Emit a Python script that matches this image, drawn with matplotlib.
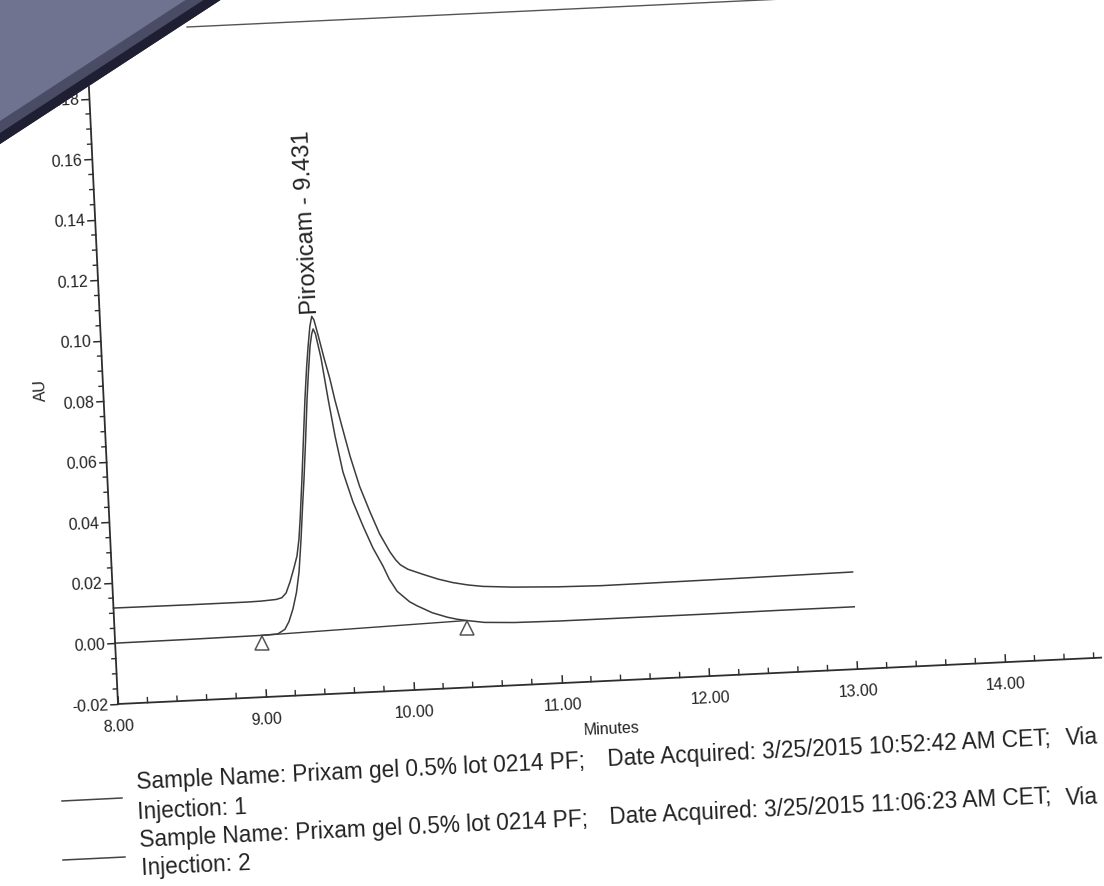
import numpy as np
import matplotlib
matplotlib.use("Agg")
import matplotlib.pyplot as plt
import matplotlib.ticker as mticker
from matplotlib.transforms import Affine2D
from matplotlib.patches import Polygon
from matplotlib.lines import Line2D
import mpl_toolkits.axisartist.floating_axes as floating_axes
from mpl_toolkits.axisartist.grid_finder import FixedLocator

plt.rcParams['font.family'] = ['Liberation Sans', 'DejaVu Sans']

# ---------------- chromatogram data ----------------
inj1_time = [8.00, 8.50, 8.90, 9.00, 9.10, 9.14, 9.17, 9.20, 9.23, 9.255, 9.274,
             9.29, 9.313, 9.335, 9.359, 9.38, 9.397, 9.415, 9.431, 9.445, 9.47,
             9.50, 9.534, 9.56, 9.60, 9.645, 9.70, 9.762, 9.82, 9.884, 9.92, 9.95,
             10.00, 10.10, 10.20, 10.30, 10.40, 10.50, 10.70, 11.00, 11.30, 12.00,
             12.50, 13.00]
inj1_au = [0.0117, 0.0116, 0.0116, 0.0117, 0.0120, 0.0125, 0.0140, 0.0176, 0.0220,
           0.0260, 0.0316, 0.0390, 0.0513, 0.0640, 0.0777, 0.0880, 0.0950, 0.1015,
           0.1048, 0.1035, 0.0980, 0.0910, 0.0838, 0.0770, 0.0680, 0.0581, 0.0480,
           0.0394, 0.0320, 0.0259, 0.0232, 0.0215, 0.0199, 0.0180, 0.0162, 0.0148,
           0.0138, 0.0131, 0.0124, 0.0118, 0.0115, 0.0117, 0.0119, 0.0121]

inj2_time = [8.00, 8.50, 9.00, 9.10, 9.15, 9.18, 9.211, 9.24, 9.264, 9.288, 9.31,
             9.327, 9.35, 9.373, 9.39, 9.41, 9.425, 9.436, 9.45, 9.48, 9.515, 9.55,
             9.592, 9.65, 9.71, 9.77, 9.832, 9.87, 9.92, 10.00, 10.047, 10.15, 10.25,
             10.313, 10.38, 10.50, 10.70, 11.00, 11.30, 12.00, 12.50, 13.00]
inj2_au = [0.0001, 0.0002, 0.0004, 0.0006, 0.0020, 0.0045, 0.0086, 0.0140, 0.0207,
           0.0316, 0.0430, 0.0513, 0.0640, 0.0776, 0.0860, 0.0950, 0.0990, 0.1006,
           0.0990, 0.0910, 0.0773, 0.0650, 0.0530, 0.0430, 0.0349, 0.0275, 0.0214,
           0.0170, 0.0128, 0.0092, 0.0078, 0.0052, 0.0035, 0.0027, 0.0021, 0.0012,
           0.0007, 0.0005, 0.0005, 0.0005, 0.0006, 0.0006]

peak_name = "Piroxicam"
peak_rt = 9.431
peak_start = 8.99      # integration start (min)
peak_end = 10.38       # integration end (min)

x_major = [8.00, 9.00, 10.00, 11.00, 12.00, 13.00, 14.00]
y_major = [-0.02, 0.00, 0.02, 0.04, 0.06, 0.08, 0.10, 0.12, 0.14, 0.16, 0.18]

sample_name = "Prixam gel 0.5% lot 0214 PF"
acquired = ["3/25/2015 10:52:42 AM CET", "3/25/2015 11:06:23 AM CET"]
injections = [1, 2]

x_range = (8.0, 14.65)
y_range = (-0.02, 0.19)

# ---------------- page geometry ----------------
W, H = 1104, 887
px_per_min = 148.0
px_per_au = 3030.0
tilt = 2.7                 # the printed page sits slightly rotated
origin_px = (118.0, 182.0)  # display position of (8.00 min, -0.02 AU)
ink = '#2e2e2e'
text_ink = '#222222'


def fp(u, v):
    """Pixel position measured from the top-left corner -> figure fraction."""
    return (u / W, 1.0 - v / H)


fig = plt.figure(figsize=(W / 100, H / 100), dpi=100)
fig.patch.set_facecolor('white')

tr = (Affine2D().translate(-x_range[0], -y_range[0])
      .scale(px_per_min, px_per_au).rotate_deg(tilt))

corners = tr.transform([(x_range[0], y_range[0]), (x_range[1], y_range[0]),
                        (x_range[0], y_range[1]), (x_range[1], y_range[1])])
bx0, by0 = corners.min(axis=0)
bx1, by1 = corners.max(axis=0)
cx, cy = (bx0 + bx1) / 2, (by0 + by1) / 2
bw, bh = (bx1 - bx0) * 1.02, (by1 - by0) * 1.02
rect = [(origin_px[0] + cx - bw / 2) / W, (origin_px[1] + cy - bh / 2) / H,
        bw / W, bh / H]

fmt = mticker.FormatStrFormatter('%.2f')
grid_helper = floating_axes.GridHelperCurveLinear(
    tr, extremes=(x_range[0], x_range[1], y_range[0], y_range[1]),
    grid_locator1=FixedLocator(x_major), grid_locator2=FixedLocator(y_major),
    tick_formatter1=fmt, tick_formatter2=fmt)
ax = fig.add_axes(rect, axes_class=floating_axes.FloatingAxes,
                  grid_helper=grid_helper)
ax.patch.set_facecolor('white')
ax.patch.set_edgecolor('none')

ax.axis["top"].set_visible(False)
ax.axis["right"].set_visible(False)
for side in ("left", "bottom"):
    a = ax.axis[side]
    a.line.set_color(ink)
    a.line.set_linewidth(1.3)
    a.major_ticks.set_color(ink)
    a.major_ticks.set_markeredgewidth(1.1)
    a.major_ticklabels.set_fontsize(11.5)
    a.major_ticklabels.set_color(text_ink)
    a.label.set_fontsize(11.5)
    a.label.set_color(text_ink)

ax.axis["left"].major_ticks.set_tick_out(True)
ax.axis["left"].major_ticks.set_ticksize(6)
ax.axis["left"].major_ticklabels.set_pad(1)
ax.axis["left"].label.set_text("AU")
ax.axis["left"].label.set_pad(6)

ax.axis["bottom"].major_ticks.set_ticksize(6)
ax.axis["bottom"].major_ticklabels.set_pad(10)
ax.axis["bottom"].label.set_text("Minutes")
ax.axis["bottom"].label.set_pad(10)

aux = ax.get_aux_axes(tr)

# minor ticks: x inward (up), y outward (left)
x_minor = [v for v in np.arange(8.2, x_range[1], 0.2)
           if min(abs(v - m) for m in x_major) > 1e-6]
y_minor = [v for v in np.arange(-0.015, y_range[1], 0.005)
           if min(abs(v - m) for m in y_major) > 1e-6]
for v in x_minor:
    aux.plot([v, v], [y_range[0], y_range[0] + 5 / px_per_au],
             color=ink, lw=1.0, clip_on=False)
for v in y_minor:
    aux.plot([x_range[0], x_range[0] - 4 / px_per_min], [v, v],
             color=ink, lw=1.0, clip_on=False)

# traces
trace_color = '#3c3c3c'
aux.plot(inj1_time, inj1_au, color=trace_color, lw=1.1)
aux.plot(inj2_time, inj2_au, color=trace_color, lw=1.1)

# integration baseline and start/end markers
b0 = np.interp(peak_start, inj2_time, inj2_au)
b1 = np.interp(peak_end, inj2_time, inj2_au)
aux.plot([peak_start, peak_end], [b0, b1], color=trace_color, lw=1.0)
aux.plot([peak_start, peak_end], [b0 - 0.0024, b1 - 0.0024], ls='none',
         marker='^', ms=10, mfc='white', mec='#555555', mew=1.1)

# peak label
peak_top = max(inj1_au)
aux.text(peak_rt - 0.005, peak_top + 0.0010, f"{peak_name} - {peak_rt:.3f}",
         rotation=90 + tilt, rotation_mode='anchor', ha='left', va='center',
         fontsize=17, color=text_ink)

# ---------------- legend block ----------------
leg_text_kw = dict(rotation=tilt, rotation_mode='anchor', ha='left',
                   va='baseline', fontsize=16.3, color=text_ink)
rows = [
    dict(line=((62, 802), (122, 799)),
         name=(137, 789), date=(608, 766), via=(1066, 745), inj=(138, 819)),
    dict(line=((63, 861), (125, 858)),
         name=(140, 847), date=(610, 824), via=(1066, 805), inj=(142, 875)),
]
for k, row in enumerate(rows):
    (u0, v0), (u1, v1) = row["line"]
    p0, p1 = fp(u0, v0), fp(u1, v1)
    fig.add_artist(Line2D([p0[0], p1[0]], [p0[1], p1[1]],
                          transform=fig.transFigure, color='#444444', lw=1.1))
    fig.text(*fp(*row["name"]), f"Sample Name: {sample_name};", **leg_text_kw)
    fig.text(*fp(*row["date"]), f"Date Acquired: {acquired[k]};", **leg_text_kw)
    fig.text(*fp(*row["via"]), "Via", **leg_text_kw)
    fig.text(*fp(*row["inj"]), f"Injection: {injections[k]}", **leg_text_kw)

# page frame line near the top edge
q0, q1 = fp(187, 28), fp(783, 0)
fig.add_artist(Line2D([q0[0], q1[0]], [q0[1], q1[1]],
                      transform=fig.transFigure, color='#555555', lw=1.0))

# dark background visible past the paper's top-left corner
fig.add_artist(Polygon([fp(0, 0), fp(222, 0), fp(0, 145)], closed=True,
                       transform=fig.transFigure, fc='#6f7390', ec='none',
                       zorder=5))
fig.add_artist(Polygon([fp(222, 0), fp(0, 145), fp(0, 122), fp(187, 0)],
                       closed=True, transform=fig.transFigure, fc='#4a4c66',
                       ec='none', zorder=6))
fig.add_artist(Polygon([fp(222, 0), fp(0, 145), fp(0, 134), fp(205, 0)],
                       closed=True, transform=fig.transFigure, fc='#1e1f33',
                       ec='none', zorder=7))

fig.savefig("out.png", dpi=100, facecolor='white')
